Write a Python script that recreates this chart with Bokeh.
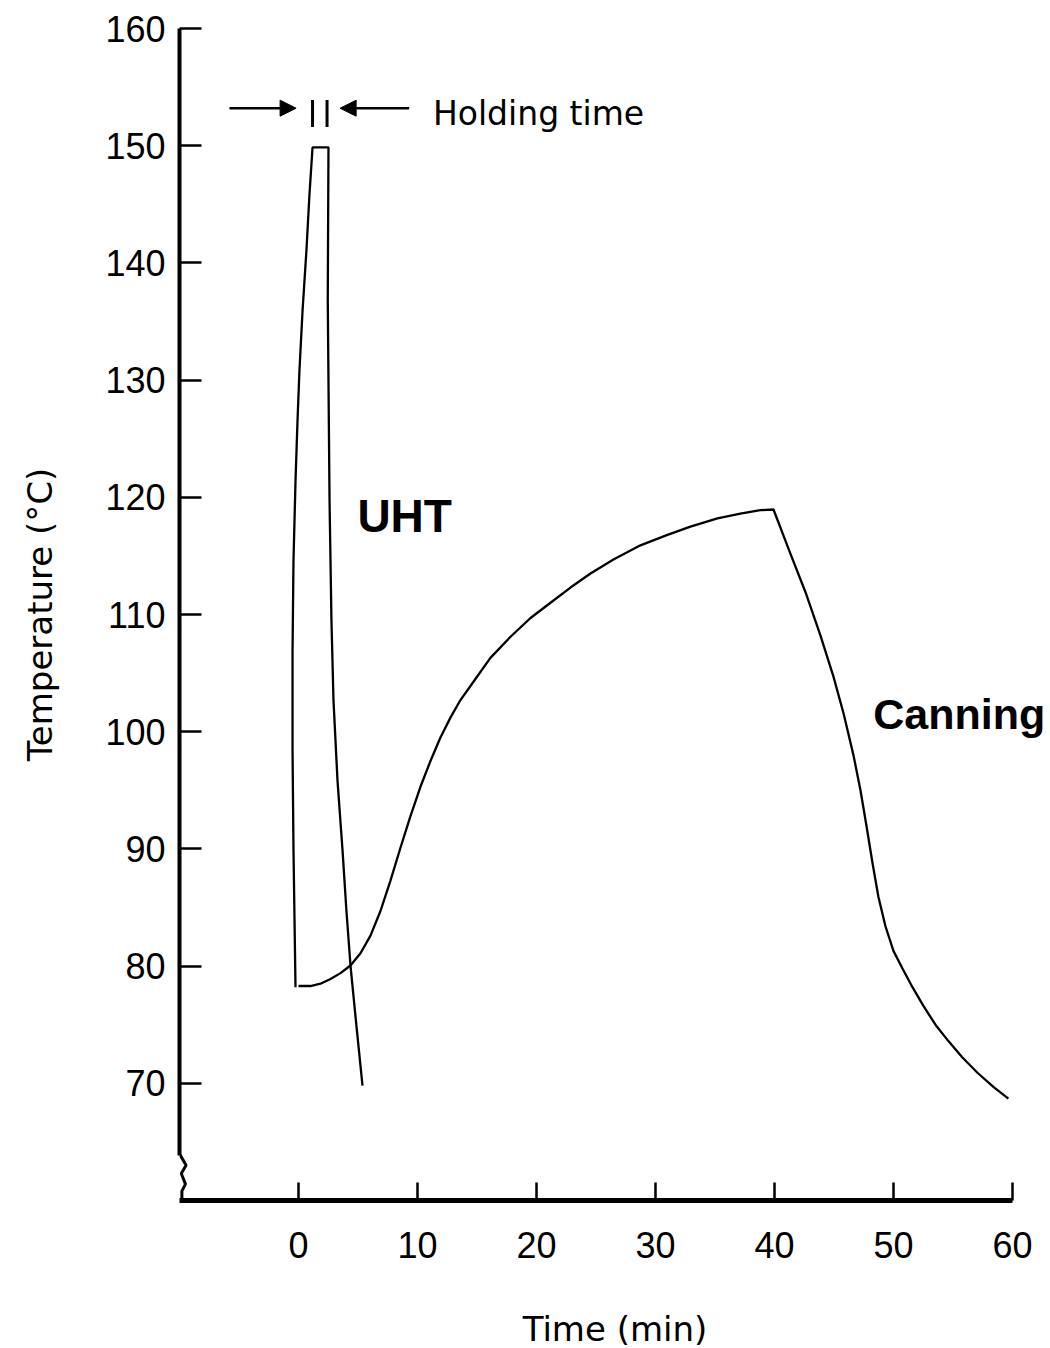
from bokeh.plotting import figure
from bokeh.models import Range1d, Label, Arrow, NormalHead, FixedTicker
from bokeh.embed import file_html
from bokeh.resources import INLINE

# ---- data ----
x_ticks = [0, 10, 20, 30, 40, 50, 60]
y_ticks = [70, 80, 90, 100, 110, 120, 130, 140, 150, 160]

uht_time = [-0.25, -0.42, -0.50, -0.50, -0.42, -0.25, -0.08, 0.08, 0.34, 0.67, 0.92, 1.18,
            2.52, 2.46, 2.61, 2.77, 2.94, 3.28, 3.70, 4.03, 4.37, 4.87, 5.38]
uht_temp = [78.2, 89.9, 98.4, 106.9, 114.6, 121.4, 126.6, 130.8, 135.9, 141.1, 145.8, 149.85,
            149.85, 136.8, 119.7, 109.5, 102.7, 95.8, 89.9, 84.7, 80.05, 74.9, 69.8]

canning_time = [0, 1.01, 1.85, 2.69, 3.53, 4.37, 5.21, 6.05, 6.89, 7.73, 8.57, 9.41, 10.25,
                11.09, 11.93, 12.77, 13.61, 14.87, 16.13, 17.82, 19.50, 21.18, 22.86, 24.54,
                26.47, 28.74, 31.01, 32.94, 35.21, 37.14, 38.82, 39.92,
                41.34, 42.61, 43.87, 44.96, 45.80, 46.64, 47.23, 47.73, 48.24, 48.74, 49.33,
                50.00, 50.76, 51.60, 52.52, 53.53, 54.62, 55.80, 57.06, 58.40, 59.66]
canning_temp = [78.3, 78.3, 78.5, 78.9, 79.4, 80.05, 81.1, 82.6, 84.7, 87.3, 90.1, 92.8, 95.3,
                97.5, 99.5, 101.2, 102.7, 104.5, 106.3, 108.1, 109.7, 111.0, 112.3, 113.5,
                114.7, 115.9, 116.8, 117.5, 118.2, 118.6, 118.9, 118.96,
                115.2, 111.9, 108.2, 104.7, 101.6, 98.0, 95.0, 92.0, 88.8, 85.9, 83.4,
                81.3, 79.8, 78.2, 76.6, 75.0, 73.6, 72.2, 70.9, 69.7, 68.7]

holding_start = 1.18
holding_end = 2.4

TICK_FONT = "Liberation Sans"
LABEL_FONT = "DejaVu Sans"

p = figure(frame_width=871, frame_height=1172,
           x_range=Range1d(-10, 63.2), y_range=Range1d(60, 160),
           output_backend="svg", toolbar_location=None,
           min_border_left=179, min_border_right=0, min_border_top=28, min_border_bottom=148)

p.grid.visible = False
p.outline_line_color = None
p.background_fill_color = "white"
p.border_fill_color = "white"

# axes
xa = p.xaxis[0]
xa.ticker = FixedTicker(ticks=x_ticks)
xa.bounds = (-10, 60)
xa.minor_tick_line_color = None
xa.major_tick_in = 18
xa.major_tick_out = 0
xa.major_tick_line_width = 2.5
xa.major_tick_line_color = "black"
xa.axis_line_width = 5
xa.axis_line_color = "black"
xa.major_label_text_font = TICK_FONT
xa.major_label_text_font_size = "36px"
xa.major_label_text_color = "black"
xa.major_label_standoff = 31
xa.axis_label = "Time (min)"
xa.axis_label_text_font = LABEL_FONT
xa.axis_label_text_font_size = "34px"
xa.axis_label_text_font_style = "normal"
xa.axis_label_text_color = "black"
xa.axis_label_standoff = 48

ya = p.yaxis[0]
ya.ticker = FixedTicker(ticks=y_ticks)
ya.bounds = (63.8, 160)
ya.minor_tick_line_color = None
ya.major_tick_in = 22
ya.major_tick_out = 0
ya.major_tick_line_width = 2.5
ya.major_tick_line_color = "black"
ya.axis_line_width = 4
ya.axis_line_color = "black"
ya.major_label_text_font = TICK_FONT
ya.major_label_text_font_size = "36px"
ya.major_label_text_color = "black"
ya.major_label_standoff = 14
ya.axis_label = "Temperature (°C)"
ya.axis_label_text_font = LABEL_FONT
ya.axis_label_text_font_size = "34px"
ya.axis_label_text_font_style = "normal"
ya.axis_label_text_color = "black"
ya.axis_label_standoff = 42

# axis break squiggle at the bottom of the y axis
p.line([-9.95, -9.45, -9.85, -9.5, -9.8, -9.8],
       [63.9, 63.0, 62.3, 61.4, 60.8, 60.0], line_color="black", line_width=3)

# curves
p.line(uht_time, uht_temp, line_color="black", line_width=2.3)
p.line(canning_time, canning_temp, line_color="black", line_width=2.3)

# holding time markers and arrows
p.segment(x0=[holding_start, holding_end], y0=[151.6, 151.6],
          x1=[holding_start, holding_end], y1=[153.9, 153.9],
          line_color="black", line_width=3)
p.add_layout(Arrow(end=NormalHead(size=16, fill_color="black", line_color="black"),
                   x_start=-5.8, y_start=153.2, x_end=-0.2, y_end=153.2,
                   line_width=2.5, line_color="black"))
p.add_layout(Arrow(end=NormalHead(size=16, fill_color="black", line_color="black"),
                   x_start=9.3, y_start=153.2, x_end=3.5, y_end=153.2,
                   line_width=2.5, line_color="black"))

p.add_layout(Label(x=11.3, y=152.75, text="Holding time", text_font=LABEL_FONT,
                   text_font_size="33px", text_baseline="alphabetic", text_align="left",
                   text_color="black"))
p.add_layout(Label(x=4.95, y=118.4, text="UHT", text_font=TICK_FONT, text_font_style="bold",
                   text_font_size="46px", text_baseline="alphabetic", text_align="left",
                   text_color="black"))
p.add_layout(Label(x=48.3, y=101.5, text="Canning", text_font=TICK_FONT, text_font_style="bold",
                   text_font_size="43px", text_baseline="alphabetic", text_align="left",
                   text_color="black"))

open("out.html", "w").write(file_html(p, INLINE))
